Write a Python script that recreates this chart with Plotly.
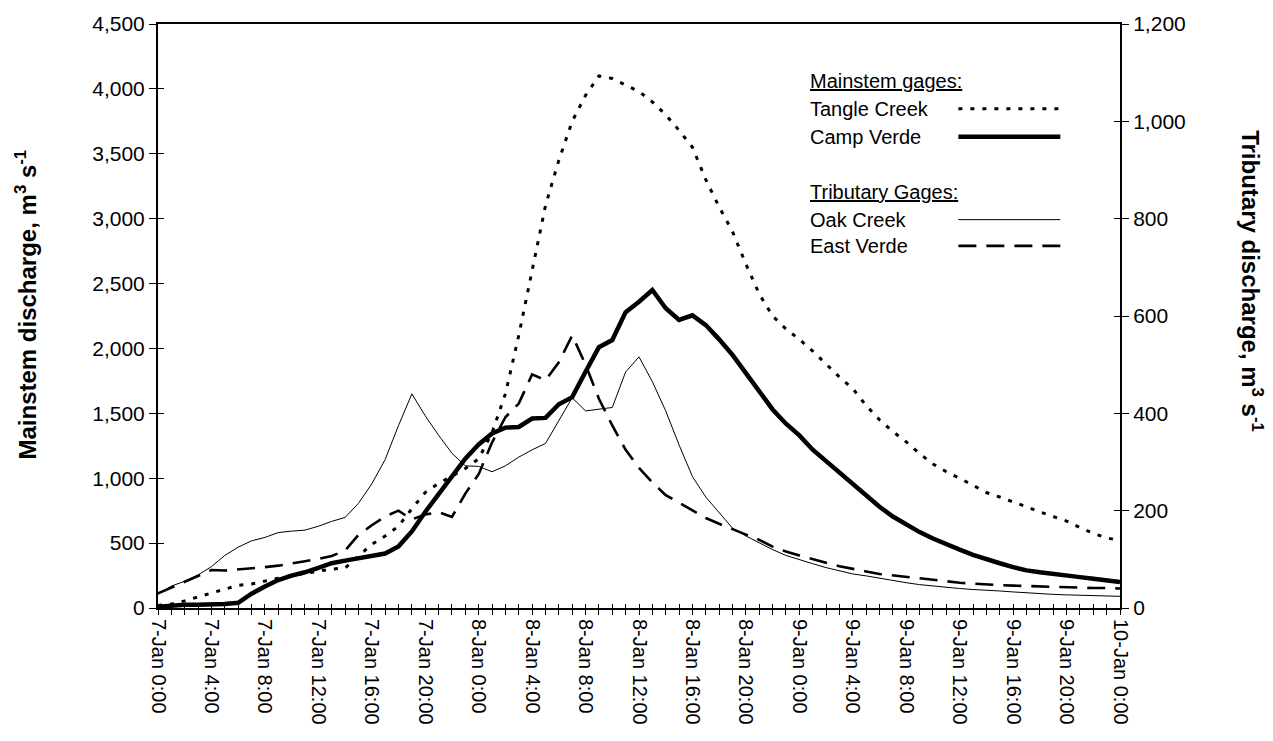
import pandas as pd
import plotly.graph_objects as go

# ---------------- data (hourly, 7-Jan 0:00 .. 10-Jan 0:00) ----------------
start_time = "1993-01-07 00:00"
times = pd.date_range(start_time, periods=73, freq="h")

# Mainstem gages (left axis, m3/s)
tangle_creek = [20, 30, 55, 85, 115, 145, 175, 185, 210, 230,
                250, 265, 280, 300, 308, 400, 490, 555, 630, 765,
                890, 960, 1020, 1075, 1150, 1350, 1650, 2100, 2600, 3100,
                3450, 3750, 3950, 4100, 4080, 4030, 3980, 3900, 3800, 3680,
                3550, 3300, 3090, 2900, 2650, 2420, 2250, 2150, 2070, 1980,
                1880, 1780, 1690, 1560, 1450, 1360, 1280, 1190, 1110, 1050,
                1000, 945, 890, 855, 820, 780, 740, 705, 670, 620,
                575, 540, 520]
camp_verde = [10, 20, 25, 25, 25, 30, 40, 110, 165, 215,
              250, 275, 310, 345, 365, 385, 400, 420, 475, 590,
              740, 875, 1010, 1150, 1260, 1345, 1390, 1395, 1460, 1465,
              1570, 1625, 1820, 2010, 2065, 2280, 2360, 2450, 2310, 2220,
              2255, 2180, 2070, 1950, 1810, 1670, 1530, 1420, 1330, 1220,
              1130, 1040, 955, 870, 780, 705, 640, 585, 535, 490,
              450, 410, 375, 345, 315, 290, 275, 260, 250, 238,
              225, 210, 200]

# Tributary gages (right axis, m3/s)
oak_creek = [28, 45, 55, 68, 85, 108, 125, 138, 145, 155,
             158, 160, 168, 178, 186, 215, 255, 305, 375, 440,
             395, 355, 318, 292, 291, 280, 292, 310, 325, 338,
             385, 432, 405, 408, 412, 485, 516, 465, 405, 335,
             270, 228, 195, 164, 148, 134, 120, 108, 99, 91,
             83, 77, 70, 66, 61, 57, 52, 48, 45, 42,
             40, 38, 37, 35, 33, 31, 29, 28, 27, 26,
             25, 25, 24]
east_verde = [30, 42, 55, 67, 78, 77, 79, 82, 84, 87,
              91, 96, 101, 107, 118, 150, 170, 188, 200, 182,
              192, 197, 187, 235, 275, 340, 392, 420, 480, 468,
              505, 560, 500, 430, 375, 325, 288, 258, 232, 216,
              200, 185, 173, 162, 150, 140, 126, 116, 108, 100,
              93, 86, 80, 75, 70, 67, 64, 60, 57, 54,
              52, 50, 48, 47, 46, 45, 44, 43, 42, 42,
              41, 41, 40]

left_range = [0, 4500]
right_range = [0, 1200]

FONT = "Liberation Sans, Arial, Helvetica, sans-serif"
BLACK = "#000000"

DOT = "4px,8px"
DASH = "18px,10px"

fig = go.Figure()
fig.add_trace(go.Scatter(x=times, y=oak_creek, yaxis="y2", mode="lines",
                         line=dict(color=BLACK, width=1), name="Oak Creek"))
fig.add_trace(go.Scatter(x=times, y=east_verde, yaxis="y2", mode="lines",
                         line=dict(color=BLACK, width=2.6, dash=DASH), name="East Verde"))
fig.add_trace(go.Scatter(x=times, y=tangle_creek, yaxis="y", mode="lines",
                         line=dict(color=BLACK, width=3, dash=DOT), name="Tangle Creek"))
fig.add_trace(go.Scatter(x=times, y=camp_verde, yaxis="y", mode="lines",
                         line=dict(color=BLACK, width=4.5), name="Camp Verde"))

# empty helper traces so the overlay (inside-tick) axes are drawn
fig.add_trace(go.Scatter(x=[], y=[], xaxis="x2", yaxis="y", showlegend=False, hoverinfo="skip"))
fig.add_trace(go.Scatter(x=[], y=[], xaxis="x", yaxis="y3", showlegend=False, hoverinfo="skip"))
fig.add_trace(go.Scatter(x=[], y=[], xaxis="x", yaxis="y4", showlegend=False, hoverinfo="skip"))

xr = [times[0], times[-1]]
HOUR = 3600000

common_x = dict(type="date", range=xr, tick0=start_time, dtick=4 * HOUR,
                showgrid=False, zeroline=False, tickcolor=BLACK, tickwidth=1)

fig.update_layout(
    width=1273, height=741,
    margin=dict(l=158, r=153, t=24, b=133),
    paper_bgcolor="white", plot_bgcolor="white",
    showlegend=False,
    font=dict(family=FONT, color=BLACK),
    xaxis=dict(**common_x, tickformat="%-d-%b %-H:%M", tickangle=90,
               ticks="outside", ticklen=5,
               showline=True, linecolor=BLACK, linewidth=2, mirror=True,
               minor=dict(dtick=HOUR, ticks="outside", ticklen=5, tickcolor=BLACK, tickwidth=1),
               tickfont=dict(size=20, family=FONT, color=BLACK)),
    xaxis2=dict(**common_x, overlaying="x", anchor="y", side="bottom",
                ticks="inside", ticklen=4, showticklabels=False, showline=False,
                minor=dict(dtick=HOUR, ticks="inside", ticklen=4, tickcolor=BLACK, tickwidth=1)),
    yaxis=dict(range=left_range, dtick=500, tickformat=",d",
               ticks="outside", ticklen=7, tickcolor=BLACK,
               showline=True, linecolor=BLACK, linewidth=2,
               showgrid=False, zeroline=False,
               tickfont=dict(size=21, family=FONT, color=BLACK)),
    yaxis2=dict(range=right_range, dtick=200, tickformat=",d", overlaying="y", side="right",
                ticks="outside", ticklen=7, tickcolor=BLACK,
                showline=True, linecolor=BLACK, linewidth=2,
                showgrid=False, zeroline=False,
                tickfont=dict(size=21, family=FONT, color=BLACK)),
    yaxis3=dict(range=left_range, dtick=500, overlaying="y", side="left", anchor="x",
                ticks="inside", ticklen=6, tickcolor=BLACK, showticklabels=False,
                showline=False, showgrid=False, zeroline=False),
    yaxis4=dict(range=right_range, dtick=200, overlaying="y", side="right", anchor="x",
                ticks="inside", ticklen=6, tickcolor=BLACK, showticklabels=False,
                showline=False, showgrid=False, zeroline=False),
)

# axis titles
fig.add_annotation(text="<b>Mainstem discharge, m<sup>3</sup> s<sup>-1</sup></b>",
                   xref="paper", yref="paper", x=-0.137, y=0.52, textangle=-90,
                   showarrow=False, xanchor="center", yanchor="middle",
                   font=dict(size=24, family=FONT, color=BLACK))
fig.add_annotation(text="<b>Tributary discharge, m<sup>3</sup> s<sup>-1</sup></b>",
                   xref="paper", yref="paper", x=1.137, y=0.56, textangle=90,
                   showarrow=False, xanchor="center", yanchor="middle",
                   font=dict(size=24, family=FONT, color=BLACK))

# custom legend (text on the left, line sample on the right)
legend_x = 0.676
sample_x0, sample_x1 = 0.832, 0.938
legend_rows = [
    ("<u>Mainstem gages:</u>", 0.903, None),
    ("Tangle Creek", 0.855, dict(color=BLACK, width=3, dash=DOT)),
    ("Camp Verde", 0.807, dict(color=BLACK, width=4.5)),
    ("<u>Tributary Gages:</u>", 0.713, None),
    ("Oak Creek", 0.665, dict(color=BLACK, width=1)),
    ("East Verde", 0.620, dict(color=BLACK, width=2.6, dash=DASH)),
]
for label, ypos, line in legend_rows:
    fig.add_annotation(text=label, xref="paper", yref="paper", x=legend_x, y=ypos,
                       showarrow=False, xanchor="left", yanchor="middle",
                       font=dict(size=20, family=FONT, color=BLACK))
    if line is not None:
        fig.add_shape(type="line", xref="paper", yref="paper",
                      x0=sample_x0, x1=sample_x1, y0=ypos, y1=ypos, line=line)

fig.write_html("out.html")
